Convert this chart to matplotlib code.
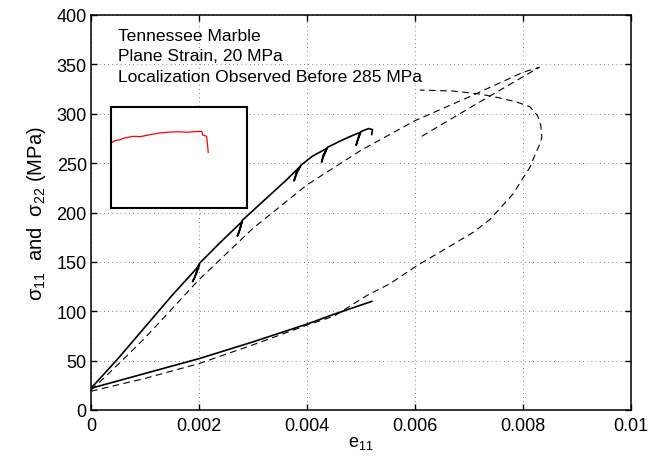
import numpy as np
import matplotlib
matplotlib.use("Agg")
import matplotlib.pyplot as plt

plt.rcParams['font.family'] = ['Liberation Sans', 'DejaVu Sans']
plt.rcParams['mathtext.default'] = 'regular'

# measured sigma_11 (solid, with small unload/reload loops)
e_s11 = [0, 0.0005, 0.001, 0.0015, 0.0019, 0.00201, 0.00195, 0.00188, 0.00192, 0.0020,
         0.0024, 0.0028, 0.00276, 0.00271, 0.00274, 0.0028,
         0.0032, 0.0036, 0.00388, 0.00382, 0.00376, 0.0038, 0.00389,
         0.0041, 0.00437, 0.0043, 0.00427, 0.0043, 0.00438,
         0.0046, 0.0048, 0.00498, 0.00494, 0.00491, 0.00494, 0.0050,
         0.00514, 0.00521, 0.0052]
s11 = [22, 52, 84, 116, 140, 147, 138, 130, 134, 148,
       170, 191, 183, 176, 180, 192,
       212, 232, 247, 241, 232, 240, 248,
       257, 265, 258, 251, 256, 266,
       272, 277, 281, 274, 268, 273, 282,
       285, 284, 279]

# measured sigma_22 (solid)
e_s22 = [0, 0.001, 0.002, 0.003, 0.004, 0.0045, 0.0052]
s22 = [22, 37, 52, 69, 87, 97, 110]

# model sigma_11 (dashed)
e_m11 = [0, 0.0005, 0.001, 0.002, 0.003, 0.004, 0.005, 0.006, 0.007, 0.008, 0.0083,
         0.0072, 0.00609]
m11 = [20, 46, 73, 132, 184, 228, 263, 293, 317, 342, 347,
       312, 276]

# model sigma_22 (dashed)
e_m22 = [0, 0.001, 0.002, 0.003, 0.004, 0.0045, 0.00511, 0.00554, 0.00603, 0.00665,
         0.00708, 0.00739, 0.00757, 0.00782, 0.00799, 0.00813, 0.00822, 0.0083,
         0.00835, 0.00833, 0.00827, 0.00813, 0.00788, 0.00757, 0.0072, 0.00671,
         0.00609]
m22 = [19, 32, 47, 66, 86, 95, 116, 128, 146, 166,
       180, 193, 204, 219, 234, 246, 258, 268,
       276, 288, 298, 307, 312, 316, 320, 323,
       324]

# inset trace (normalised inset coords)
inset_x = [0, 0.029, 0.066, 0.090, 0.164, 0.213, 0.287, 0.360, 0.434, 0.507,
           0.557, 0.605, 0.667, 0.674, 0.703, 0.708, 0.715]
inset_y = [0.644, 0.666, 0.676, 0.690, 0.710, 0.706, 0.726, 0.743, 0.752, 0.755,
           0.750, 0.755, 0.759, 0.723, 0.710, 0.650, 0.551]

xticks = [0, 0.002, 0.004, 0.006, 0.008, 0.01]
xticklabels = ['0', '0.002', '0.004', '0.006', '0.008', '0.01']
yticks = [0, 50, 100, 150, 200, 250, 300, 350, 400]

notes = ['Tennessee Marble', 'Plane Strain, 20 MPa',
         'Localization Observed Before 285 MPa']

fig = plt.figure(figsize=(6.51, 4.6), dpi=100)
ax = fig.add_axes([91/651, 49/460, 540/651, 395/460])

ax.plot(e_s11, s11, 'k-', lw=1.2)
ax.plot(e_s22, s22, 'k-', lw=1.2)
ax.plot(e_m11, m11, 'k--', lw=0.8, dashes=(6, 4))
ax.plot(e_m22, m22, 'k--', lw=0.8, dashes=(6, 4))

ax.set_xlim(0, 0.01)
ax.set_ylim(0, 400)
ax.set_xticks(xticks)
ax.set_xticklabels(xticklabels)
ax.set_yticks(yticks)
ax.grid(True, color='0.35', ls=(0, (1, 4)), lw=0.6)
ax.tick_params(direction='in', length=4, width=1, labelsize=13,
               top=True, right=True)
ax.tick_params(axis='x', pad=5)
ax.tick_params(axis='y', pad=3)
for sp in ax.spines.values():
    sp.set_linewidth(1.1)

ax.set_xlabel('e$_{11}$', fontsize=13, labelpad=0)
ax.set_ylabel('\u03c3$_{11}$  and  \u03c3$_{22}$ (MPa)', fontsize=14.5, labelpad=6)

for t, yy in zip(notes, [0.949, 0.898, 0.845]):
    ax.text(0.05, yy, t, transform=ax.transAxes, fontsize=12.6, va='center', ha='left')

ins = fig.add_axes([111/651, 251/460, 136/651, 101/460])
ins.plot(inset_x, inset_y, color='red', lw=0.9)
ins.set_xlim(0, 1)
ins.set_ylim(0, 1)
ins.set_xticks([])
ins.set_yticks([])
for sp in ins.spines.values():
    sp.set_linewidth(1.5)

fig.savefig('out.png', dpi=100)
